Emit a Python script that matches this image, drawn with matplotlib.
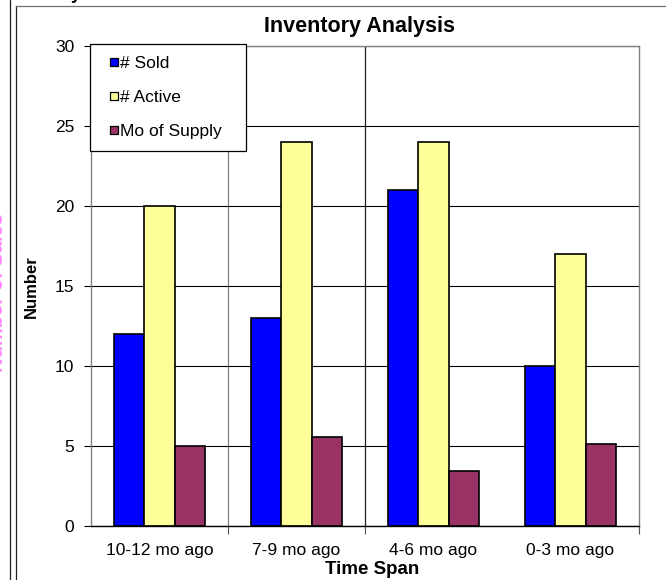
import numpy as np
import matplotlib
matplotlib.use("Agg")
import matplotlib.pyplot as plt
from matplotlib.lines import Line2D

plt.rcParams['font.family'] = ['Liberation Sans', 'DejaVu Sans']

# ---- data ----
spans = ["10-12 mo ago", "7-9 mo ago", "4-6 mo ago", "0-3 mo ago"]
sold = [12, 13, 21, 10]
active = [20, 24, 24, 17]
supply = [5.0, 5.54, 3.43, 5.1]
series_names = ["# Sold", "# Active", "Mo of Supply"]
colors = ["#0000FF", "#FFFF99", "#993366"]

W, H = 666, 580
fig = plt.figure(figsize=(W / 100, H / 100), dpi=100)

def px(x, y):                       # pixel (top-left origin) -> figure fraction
    return x / W, 1 - y / H

# frame of the chart area and neighbour chart edge
fig.add_artist(Line2D([9.5 / W, 9.5 / W], [0, 1], color="#202020", lw=0.9))
fig.add_artist(Line2D([15.5 / W, 15.5 / W], [0, 1 - 6 / H], color="#202020", lw=0.9))
fig.add_artist(Line2D([15.5 / W, 1], [1 - 6 / H, 1 - 6 / H], color="#707070", lw=0.9))

# cropped text from neighbour chart / heading
fig.text(*px(7, 293), "Number of Sales", rotation=90, ha="right", va="center",
         color="#FF88FF", fontsize=14.5, fontweight="bold")
fig.text(*px(71, -1), "y", ha="left", va="baseline", fontsize=13, fontweight="bold")

ax = fig.add_axes([91 / W, 1 - 526 / H, 548 / W, 480 / H])
x = np.arange(len(spans))
bw = 0.223
for i, (vals, col, name) in enumerate(zip([sold, active, supply], colors, series_names)):
    ax.bar(x + (i - 1) * bw, vals, width=bw, color=col, edgecolor="black",
           linewidth=1.2, label=name, zorder=3)

ax.set_xlim(-0.5, len(spans) - 0.5)
ax.set_ylim(0, 30)
ax.set_yticks(range(0, 31, 5))
ax.set_xticks(x)
ax.set_xticklabels(spans, fontsize=12.5)
ax.tick_params(axis="x", length=0, pad=12)
ax.tick_params(axis="y", labelsize=12.5, length=5, width=0.8, pad=7)
ax.set_xticks([0.5, 1.5, 3.5], minor=True)
ax.tick_params(axis="x", which="minor", length=6, width=0.8, color="#505050")

ax.yaxis.grid(True, color="black", lw=0.8, zorder=1)
for b, c in zip([0.5, 1.5], ["#808080", "#202020"]):
    ax.axvline(b, color=c, lw=0.9, zorder=1)

for s in ["left", "top", "right"]:
    ax.spines[s].set_color("#808080")
    ax.spines[s].set_linewidth(1.0)
ax.spines["bottom"].set_color("black")
ax.spines["bottom"].set_linewidth(1.0)
ax.spines["bottom"].set_zorder(4)

fig.text(*px(360, 32), "Inventory Analysis", ha="center", va="baseline",
         fontsize=15.5, fontweight="bold")
fig.text(*px(39, 287), "Number", rotation=90, ha="right", va="center",
         fontsize=12, fontweight="bold")
fig.text(*px(372, 574), "Time Span", ha="center", va="baseline",
         fontsize=13.5, fontweight="bold")

handles = [Line2D([], [], ls="none", marker="s", markersize=5.8, markerfacecolor=c,
                  markeredgecolor="black", markeredgewidth=0.9) for c in colors]
leg = fig.legend(handles, series_names, loc="upper left",
                 bbox_to_anchor=(90 / W, 1 - 151 / H, 156 / W, 107 / H),
                 mode="expand", borderaxespad=0, fontsize=12.5, frameon=True,
                 fancybox=False, edgecolor="black", framealpha=1,
                 borderpad=0.68, labelspacing=1.1, handlelength=1.45,
                 handletextpad=-0.4)
leg.get_frame().set_linewidth(0.9)
leg.set_zorder(10)

fig.savefig("out.png", dpi=100)
